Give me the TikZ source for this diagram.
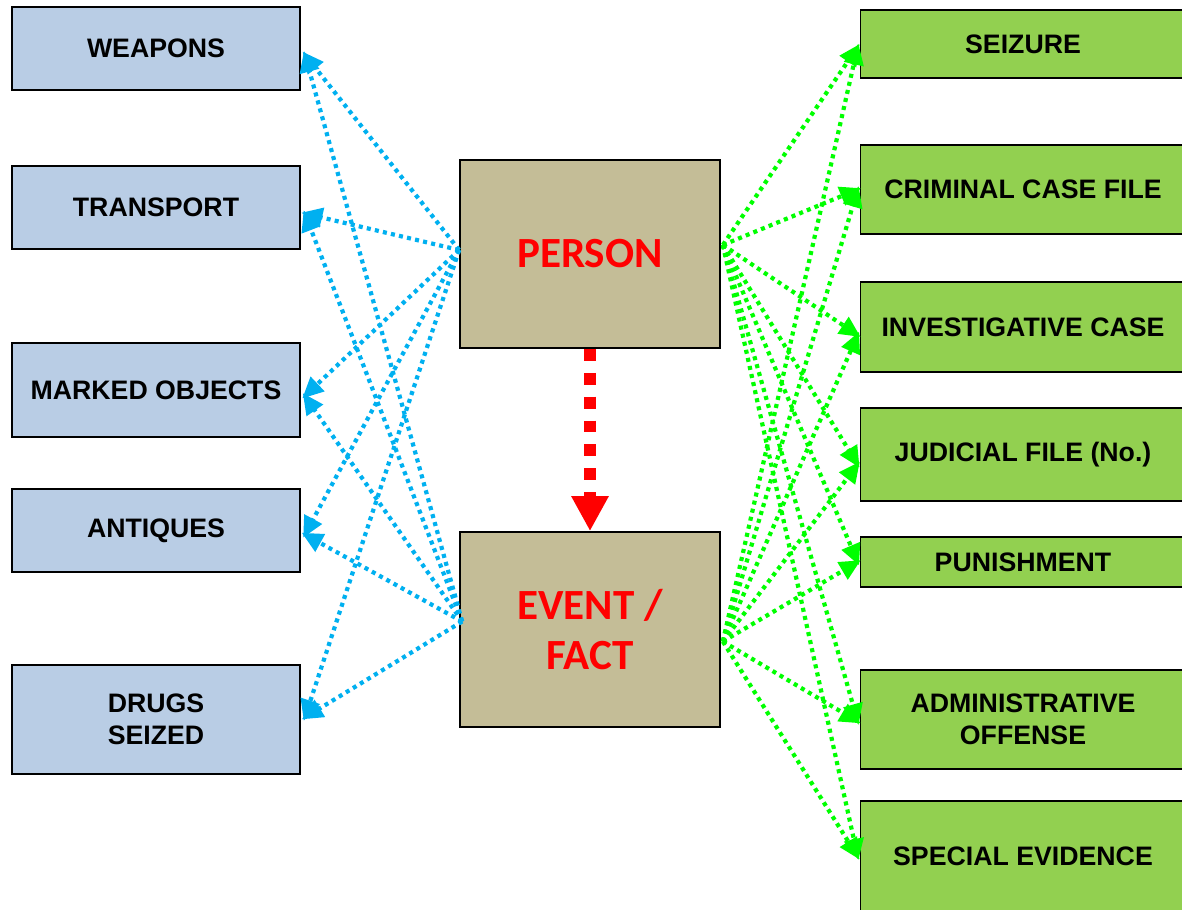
\documentclass[tikz,border=0pt]{standalone}
\usepackage{fontspec}
\setmainfont{Liberation Sans}
\newfontfamily\calib{Carlito}
\usetikzlibrary{arrows.meta,calc}
\definecolor{lblue}{HTML}{B9CDE5}
\definecolor{khaki}{HTML}{C4BD97}
\definecolor{lgreen}{HTML}{92D050}
\definecolor{cyanl}{HTML}{00B0F0}
\definecolor{greenl}{HTML}{00FF00}
\definecolor{redl}{HTML}{FF0000}
\tikzset{
  box/.style={draw=black, line width=1pt, inner sep=0pt, align=center,
    font=\fontsize{15.2}{18.2}\selectfont\bfseries},
  lbox/.style={box, fill=lblue, minimum width=5.76cm},
  rbox/.style={box, fill=lgreen, minimum width=6.5cm},
  cbox/.style={box, fill=khaki, minimum width=5.2cm, text=redl,
    font=\calib\fontsize{24.5}{28.5}\selectfont\bfseries},
  blink/.style={draw=cyanl, line width=2.4pt, dash pattern=on 2.3pt off 2.4pt,
    -{Triangle[length=12pt,width=11pt,fill=cyanl]}, shorten >=-2pt},
  glink/.style={draw=greenl, line width=2.4pt, dash pattern=on 2.3pt off 2.4pt,
    -{Triangle[length=12pt,width=11pt,fill=greenl]}, shorten >=-2pt},
  rlink/.style={draw=redl, line width=6.8pt, dash pattern=on 6.8pt off 6.8pt,
    -{Triangle[length=20pt,width=20pt,fill=redl]}}
}
\begin{document}
\begin{tikzpicture}[x=0.02cm,y=-0.02cm]
\useasboundingbox (0,0) rectangle (1182,909);
% left boxes
\node[lbox, minimum height=1.66cm] (weapons) at (156,48.5) {WEAPONS};
\node[lbox, minimum height=1.66cm] (transport) at (156,207.5) {TRANSPORT};
\node[lbox, minimum height=1.88cm] (marked) at (156,390) {MARKED OBJECTS};
\node[lbox, minimum height=1.66cm] (antiques) at (156,530.5) {ANTIQUES};
\node[lbox, minimum height=2.18cm] (drugs) at (156,719.5) {DRUGS\\SEIZED};
% centre boxes
\node[cbox, minimum height=3.76cm] (person) at (590,254) {PERSON};
\node[cbox, minimum height=3.9cm] (event) at (590,629.5) {EVENT /\\FACT};
% right boxes
\node[rbox, minimum height=1.36cm] (seizure) at (1023,44) {SEIZURE};
\node[rbox, minimum height=1.78cm] (criminal) at (1023,189.5) {CRIMINAL CASE FILE};
\node[rbox, minimum height=1.8cm] (invest) at (1023,327) {INVESTIGATIVE CASE};
\node[rbox, minimum height=1.86cm] (judicial) at (1023,454.5) {JUDICIAL FILE (No.)};
\node[rbox, minimum height=1.0cm] (punish) at (1023,562) {PUNISHMENT};
\node[rbox, minimum height=1.98cm] (admin) at (1023,719.5) {ADMINISTRATIVE\\OFFENSE};
\node[rbox, minimum height=2.22cm] (special) at (1023,856.5) {SPECIAL EVIDENCE};
% origin points
\coordinate (pl) at ($(person.west)+(0,-4)$);
\coordinate (el) at ($(event.west)+(3,-8)$);
\coordinate (pr) at ($(person.east)+(2,-9)$);
\coordinate (er) at ($(event.east)+(2,12)$);
% blue links
\foreach \t/\dy in {weapons/6,transport/6,marked/6,antiques/4,drugs/-2}{
  \draw[blink] (pl) -- ($(\t.east)+(4,\dy)$);
  \draw[blink] (el) -- ($(\t.east)+(4,\dy)$);
}
% green links
\foreach \t/\dy in {seizure/3,criminal/0,invest/8,judicial/10,punish/0,admin/2,special/0}{
  \draw[glink] (pr) -- ($(\t.west)+(-2,\dy)$);
  \draw[glink] (er) -- ($(\t.west)+(-2,\dy)$);
}
% red link
\draw[rlink] (person.south) -- (event.north);
\end{tikzpicture}
\end{document}
